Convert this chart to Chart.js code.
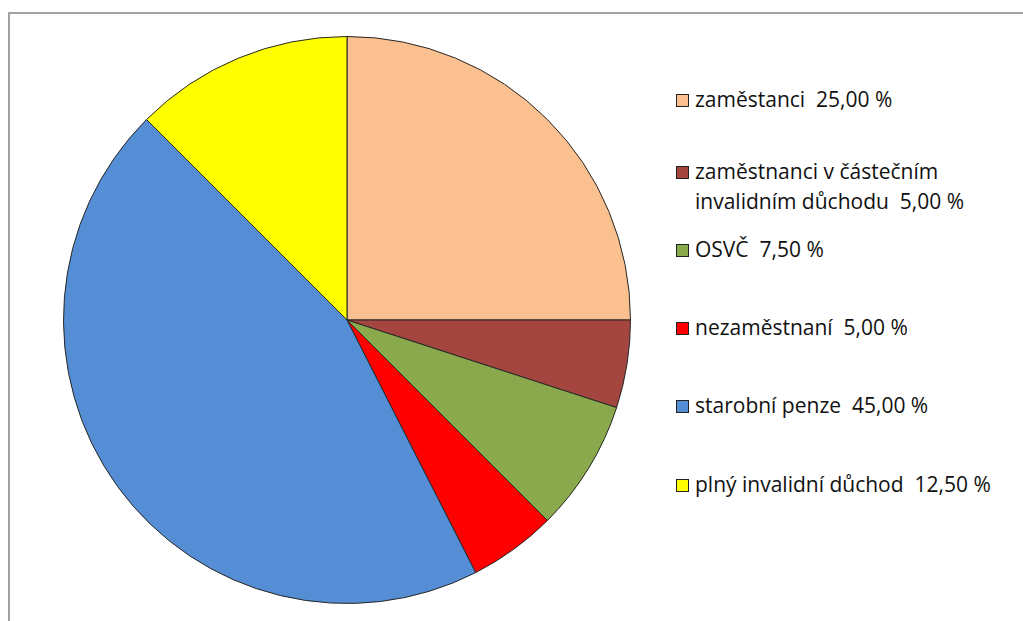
<!DOCTYPE html>
<html>
<head>
<meta charset="utf-8">
<script src="https://cdn.jsdelivr.net/npm/chart.js@4/dist/chart.umd.min.js"></script>
<style>
  html, body { margin: 0; padding: 0; background: #fff; }
  #frame {
    position: absolute; left: 8px; top: 12px; width: 1030px; height: 620px;
    border-left: 2px solid #a3a3a3; border-top: 2px solid #a3a3a3;
  }
  #pieBox { position: absolute; left: 63px; top: 36px; width: 568px; height: 568px; }
  #legend { position: absolute; left: 676px; top: 0; font-family: "Open Sans", sans-serif; font-size: 21px; color: #111; }
  .item { position: absolute; left: 0; width: 340px; }
  .box { position: absolute; left: 0; top: 6px; width: 11px; height: 11px; border: 1px solid #222; }
  .txt { position: absolute; left: 19px; width: 325px; white-space: pre-wrap; line-height: 30px; margin-top: -4px; }
</style>
</head>
<body>
<div id="frame"></div>
<div id="pieBox"><canvas id="pieChart"></canvas></div>
<div id="legend"></div>
<script>
const categories = ['zaměstanci', 'zaměstnanci v částečním invalidním důchodu', 'OSVČ', 'nezaměstnaní', 'starobní penze', 'plný invalidní důchod'];
const shares = [25.00, 5.00, 7.50, 5.00, 45.00, 12.50];
const colors = ['#fac090', '#a5453f', '#8aa84c', '#ff0000', '#558ed5', '#ffff00'];
const legendTops = [88, 160, 238, 316, 394, 473];

function fmt(v){
  return v.toFixed(2).replace('.', ',') + ' %';
}

// legend (html, vpravo od grafu)
const legend = document.getElementById('legend');
categories.forEach((c, i) => {
  const item = document.createElement('div');
  item.className = 'item';
  item.style.top = legendTops[i] + 'px';
  const box = document.createElement('div');
  box.className = 'box';
  box.style.background = colors[i];
  const txt = document.createElement('div');
  txt.className = 'txt';
  txt.textContent = c + '  ' + fmt(shares[i]);
  item.appendChild(box);
  item.appendChild(txt);
  legend.appendChild(item);
});

const config = {
  type: 'pie',
  data: {
    labels: categories,
    datasets: [{
      data: shares,
      backgroundColor: colors,
      borderColor: '#262626',
      borderWidth: 1
    }]
  },
  options: {
    responsive: true,
    maintainAspectRatio: false,
    animation: false,
    layout: { padding: 0 },
    plugins: {
      legend: { display: false },
      tooltip: { enabled: false }
    }
  }
};
new Chart('pieChart', config);
</script>
</body>
</html>
